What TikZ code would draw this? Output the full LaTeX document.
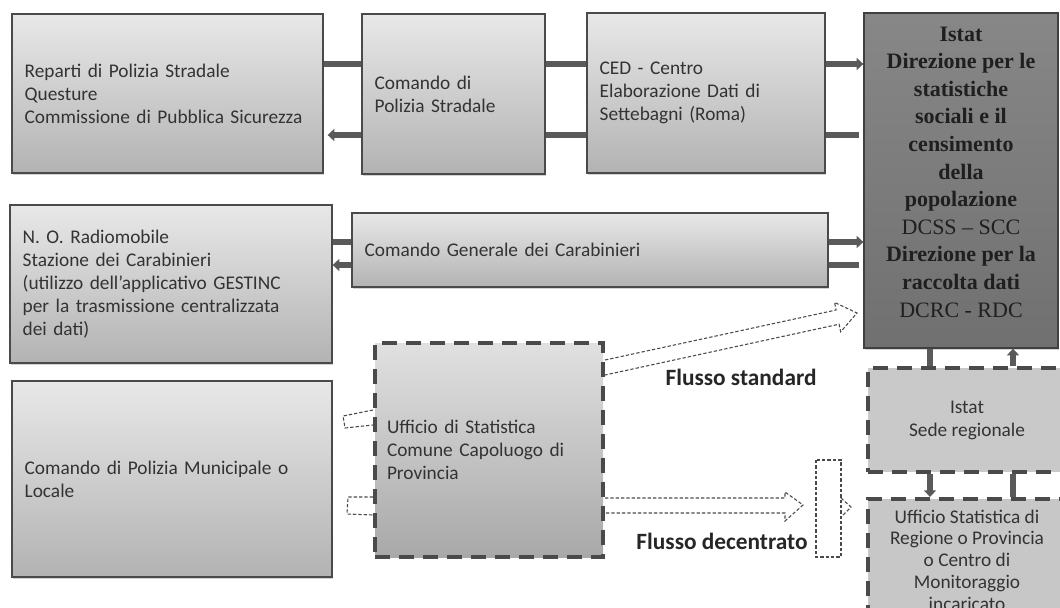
\documentclass[tikz,border=0pt]{standalone}
\usepackage{fontspec}
\setmainfont{Carlito}
\newfontfamily\istatfont{Liberation Serif}
\usetikzlibrary{arrows.meta,shadows}
\definecolor{boxline}{HTML}{4A4A4A}
\definecolor{boxtext}{HTML}{333333}
\definecolor{bargray}{HTML}{5A5A5A}

\begin{document}
\begin{tikzpicture}[x=0.75pt,y=-0.75pt,
  box/.style={draw=boxline,line width=1pt,top color=black!9,bottom color=black!30,
    drop shadow={shadow xshift=1pt,shadow yshift=-1.2pt,opacity=.35},
    inner xsep=9.5pt,inner ysep=0pt,align=left,text=boxtext,
    font=\fontsize{14.5}{17.25}\selectfont},
  dbox/.style={draw=boxline,line width=3pt,dash pattern=on 11pt off 7pt,
    inner sep=0pt,align=center,text=boxtext,font=\fontsize{14.5}{17.25}\selectfont},
  bar/.style={draw=bargray,line width=4.5pt},
  headed/.style={-{Triangle[length=5pt,width=9pt]}},
  flow/.style={draw=boxline,line width=.8pt,dash pattern=on 2.5pt off 1.5pt},
  flowlbl/.style={font=\bfseries\fontsize{17.5}{20}\selectfont,text=black!85}]
\clip (0,0) rectangle (1060,607);

% riga Polizia Stradale
\node[box,minimum width=233.25pt,minimum height=119.25pt,text width=214.25pt] (rep) at (167.5,93.5)
  {Reparti di Polizia Stradale\\Questure\\Commissione di Pubblica Sicurezza};
\node[box,minimum width=137.25pt,minimum height=120pt,text width=118.25pt] (cps) at (453.5,94)
  {Comando di\\Polizia Stradale};
\node[box,minimum width=178.5pt,minimum height=120pt,text width=159.5pt] (ced) at (706,93)
  {CED - Centro\\Elaborazione Dati di\\Settebagni (Roma)};
\node[box,top color=black!47,bottom color=black!56,draw=black!75,
  minimum width=145.5pt,minimum height=251.25pt] (istat) at (961,180.5) {};
\node[align=center,text=black!88,font=\istatfont\bfseries\fontsize{16.5}{20.7}\selectfont] (istatT)
  at ([yshift=6.4pt]istat.center)
  {Istat\\Direzione per le\\statistiche\\sociali e il\\censimento\\della\\popolazione\\
   {\mdseries DCSS – SCC}\\Direzione per la\\raccolta dati\\{\mdseries DCRC - RDC}};

% riga Carabinieri
\node[box,minimum width=241.5pt,minimum height=118.5pt,text width=222.5pt] (radio) at (171,284)
  {N. O. Radiomobile\\Stazione dei Carabinieri\\(utilizzo dell’applicativo GESTINC\\per la trasmissione centralizzata\\dei dati)};
\node[box,minimum width=357pt,minimum height=55.5pt,text width=338pt] (cgc) at (590,250)
  {Comando Generale dei Carabinieri};

% riga Polizia Municipale
\node[box,minimum width=240pt,minimum height=147pt,text width=221pt] (pm) at (172,479)
  {Comando di Polizia Municipale o\\Locale};
\node[dbox,top color=black!12,bottom color=black!34,align=left,inner xsep=9pt,
  minimum width=171pt,minimum height=160.5pt,text width=153pt] (ufcom) at (489,450)
  {Ufficio di Statistica\\Comune Capoluogo di\\Provincia};
\node[dbox,fill=black!21,minimum width=148.5pt,minimum height=78pt] (sedereg) at (967,420)
  {Istat\\Sede regionale};
\node[dbox,fill=black!22,minimum width=148.5pt,minimum height=91.5pt,
  font=\fontsize{14.5}{16.3}\selectfont] (ufreg) at (967,560)
  {Ufficio Statistica di\\Regione o Provincia\\o Centro di\\Monitoraggio\\incaricato};

\draw[bar] (rep.east |- 0,64) -- (cps.west |- 0,64);
\draw[bar,headed,shorten >=3pt] (cps.west |- 0,135) -- (rep.east |- 0,135);
\draw[bar] (cps.east |- 0,64) -- (ced.west |- 0,64);
\draw[bar] (cps.east |- 0,135) -- (ced.west |- 0,135);
\draw[bar,headed] (ced.east |- 0,64) -- (istat.west |- 0,64);
\draw[bar,shorten >=3pt] (ced.east |- 0,135) -- (istat.west |- 0,135);
\draw[bar] (radio.east |- 0,242) -- (cgc.west |- 0,242);
\draw[bar,headed] (cgc.west |- 0,265) -- (radio.east |- 0,265);
\draw[bar,headed] (cgc.east |- 0,242) -- (istat.west |- 0,242);
\draw[bar,shorten >=3pt] (cgc.east |- 0,265) -- (istat.west |- 0,265);
\draw[bar] (istat.south -| 930,0) -- (sedereg.north -| 930,0);
\draw[bar,headed] (sedereg.north -| 1013,0) -- (istat.south -| 1013,0);
\draw[bar,headed] (sedereg.south -| 930,0) -- (ufreg.north -| 930,0);
\draw[bar] (sedereg.south -| 1013,0) -- (ufreg.north -| 1013,0);

% flussi
\draw[flow] (ufcom.east |- 0,360) -- (836.1,310) -- (834.5,302.4) -- (857,313)
  -- (840.7,331.8) -- (839.1,324.2) -- (ufcom.east |- 0,375);
\draw[flow] (ufcom.east |- 0,498) -- (785,498) -- (785,492) -- (803,505)
  -- (785,521) -- (785,513) -- (ufcom.east |- 0,513);
\draw[flow] (816,460) rectangle (841,557);
\draw[flow] (841,498) -- (851,507) -- (841,517);
\draw[flow] (ufcom.west |- 0,410) -- (343,416) -- (345,428) -- (ufcom.west |- 0,425);
\draw[flow] (ufcom.west |- 0,497) -- (348,497) -- (347,514) -- (ufcom.west |- 0,515);
\node[flowlbl] (fstd) at (741,377) {Flusso standard};
\node[flowlbl] (fdec) at (722,541) {Flusso decentrato};

\end{tikzpicture}
\end{document}
